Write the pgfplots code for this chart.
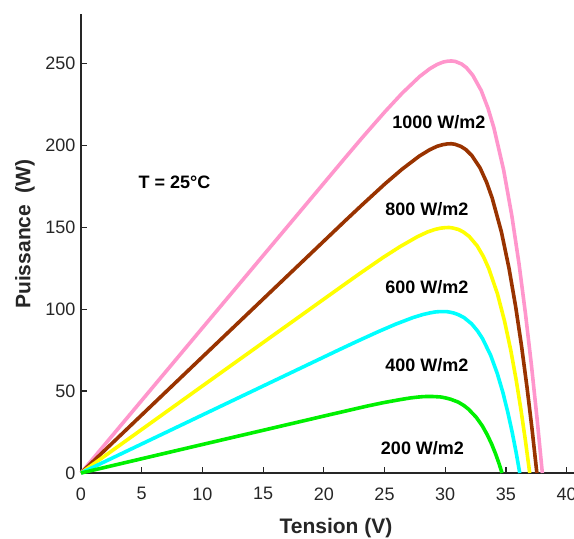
\documentclass[border=0pt]{standalone}
\usepackage{fontspec}
\setmainfont{Liberation Sans}
\usepackage{pgfplots}
\pgfplotsset{compat=1.18}
\definecolor{cpink}{RGB}{255,150,204}
\definecolor{cbrown}{RGB}{153,51,0}
\definecolor{cyellow}{RGB}{255,255,0}
\definecolor{ccyan}{RGB}{0,255,255}
\definecolor{cgreen}{RGB}{0,240,0}
\definecolor{axgray}{RGB}{38,38,38}
\begin{document}
\begin{tikzpicture}
\begin{axis}[
  at={(0,0)}, anchor=south west,
  scale only axis,
  width=509.9pt, height=458.9pt,
  xmin=0, xmax=42, ymin=0, ymax=280,
  axis lines=left,
  axis line style={-, color=axgray},
  x axis line style={line width=1.8pt},
  y axis line style={line width=1.2pt},
  tick align=inside,
  major tick length=6pt,
  tick style={color=axgray, line width=1.2pt},
  xtick={0,5,...,40},
  ytick={0,50,...,250},
  /pgf/number format/assume math mode=true,
  tick label style={font=\fontsize{18}{18}\selectfont, text=axgray},
  xticklabel style={yshift=-11pt},
  yticklabel style={xshift=-2pt},
  clip=false,
  line join=round,
]
\addplot[cpink, line width=3.6pt] coordinates {
(0,0) (10,88.5) (21.767,192.4) (23.176,204.7) (25.044,220.5) (26.462,231.8)
(27.891,241.9) (28.735,246.7) (29.341,249.3) (29.816,250.7) (30.210,251.3)
(30.544,251.4) (30.836,251.1) (31.334,249.6) (31.749,247.3) (32.268,242.7)
(32.964,233.4) (33.527,222.5) (34.007,210.7) (34.813,184.9) (35.487,157.0)
(36.078,127.7) (36.611,97.2) (37.104,65.7) (37.566,33.2) (38.0,0)
};
\addplot[cbrown, line width=3.6pt] coordinates {
(0,0) (10,70.8) (21.759,153.9) (23.168,163.7) (25.034,176.4) (26.45,185.4)
(27.874,193.4) (28.714,197.2) (29.316,199.3) (29.786,200.3) (30.176,200.8)
(30.506,200.9) (30.794,200.6) (31.282,199.3) (31.688,197.4) (32.194,193.7)
(32.868,186.2) (33.408,177.4) (33.867,167.8) (34.629,147.1) (35.258,124.8)
(35.805,101.4) (36.294,77.1) (36.743,52.0) (37.16,26.3) (37.55,0)
};
\addplot[cyellow, line width=3.6pt] coordinates {
(0,0) (10,53.1) (21.611,114.6) (23.019,122.0) (24.884,131.5) (26.298,138.2)
(27.718,144.2) (28.553,147.1) (29.151,148.6) (29.617,149.4) (30.002,149.7)
(30.327,149.8) (30.611,149.5) (31.09,148.6) (31.488,147.1) (31.981,144.3)
(32.632,138.6) (33.15,132.0) (33.587,124.8) (34.304,109.3) (34.889,92.6)
(35.392,75.2) (35.837,57.1) (36.241,38.5) (36.614,19.4) (36.96,0)
};
\addplot[ccyan, line width=3.6pt] coordinates {
(0,0) (10,35.4) (21.233,75.1) (22.641,80.0) (24.504,86.3) (25.916,90.8)
(27.332,94.8) (28.163,96.7) (28.755,97.7) (29.217,98.3) (29.598,98.5)
(29.919,98.5) (30.198,98.4) (30.668,97.7) (31.057,96.7) (31.537,94.9)
(32.166,91.1) (32.662,86.7) (33.076,82.0) (33.75,71.7) (34.29,60.7)
(34.749,49.2) (35.149,37.3) (35.51,25.1) (35.838,12.7) (36.14,0)
};
\addplot[cgreen, line width=3.6pt] coordinates {
(0,0) (10,17.4) (20.215,35.1) (21.622,37.5) (23.485,40.7) (24.894,42.9)
(26.305,44.8) (27.132,45.8) (27.72,46.3) (28.178,46.6) (28.554,46.7)
(28.87,46.7) (29.145,46.6) (29.607,46.4) (29.987,45.9) (30.453,45.0)
(31.06,43.3) (31.534,41.2) (31.926,38.9) (32.555,34.0) (33.052,28.8)
(33.466,23.3) (33.822,17.7) (34.138,11.9) (34.423,6.0) (34.68,0)
};
\node[font=\fontsize{18}{18}\selectfont\bfseries] at (axis cs:7.7,177.5) {T = 25°C};
\node[font=\fontsize{18}{18}\selectfont\bfseries] at (axis cs:29.47,213.9) {1000 W/m2};
\node[font=\fontsize{18}{18}\selectfont\bfseries] at (axis cs:28.5,161) {800 W/m2};
\node[font=\fontsize{18}{18}\selectfont\bfseries] at (axis cs:28.5,113.2) {600 W/m2};
\node[font=\fontsize{18}{18}\selectfont\bfseries] at (axis cs:28.5,65.6) {400 W/m2};
\node[font=\fontsize{18}{18}\selectfont\bfseries] at (axis cs:28.13,15.1) {200 W/m2};
\end{axis}
\node[font=\fontsize{21}{21}\selectfont\bfseries, text=axgray] at (255pt,-55pt) {Tension (V)};
\node[font=\fontsize{21}{21}\selectfont\bfseries, text=axgray, rotate=90] at (-56pt,239pt) {Puissance~~(W)};
\pgfresetboundingbox
\path[use as bounding box] (-81pt,-66pt) rectangle (493pt,473pt);
\end{tikzpicture}
\end{document}
